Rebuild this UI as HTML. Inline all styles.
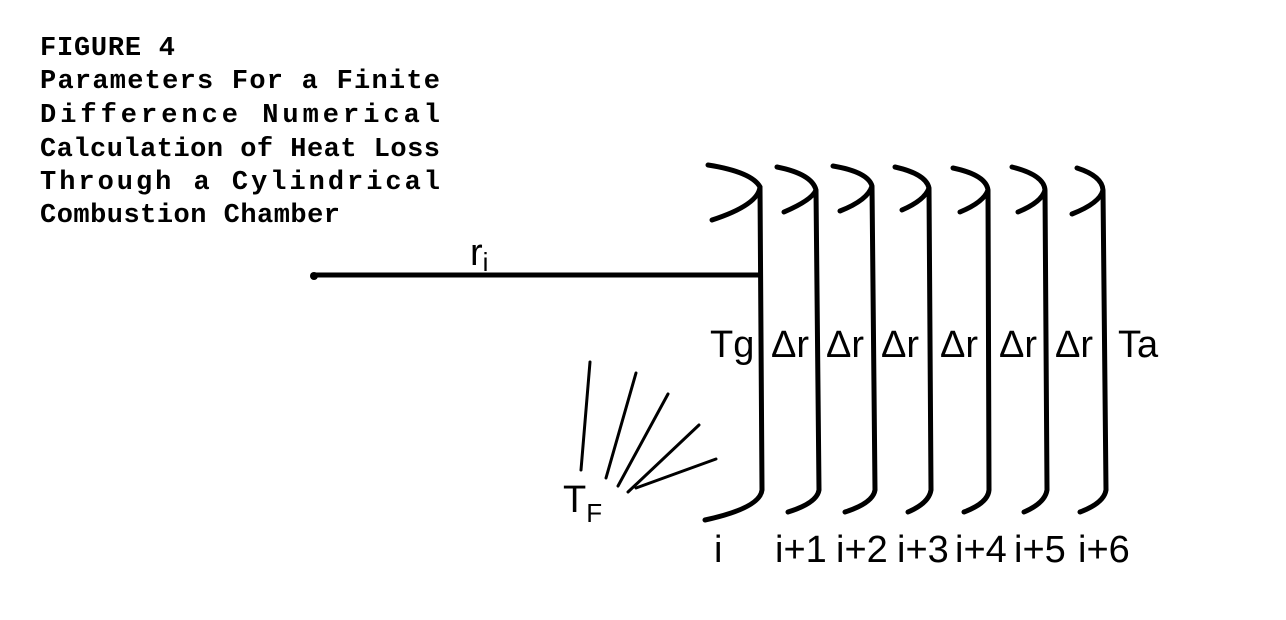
<!DOCTYPE html>
<html><head><meta charset="utf-8"><style>
html,body{margin:0;padding:0;background:#fff;}
svg{display:block;}
.m{font-family:"Liberation Mono",monospace;font-weight:bold;font-size:27px;fill:#000;}
.s{font-family:"Liberation Sans",sans-serif;font-size:38px;fill:#000;}
</style></head><body>
<svg width="1286" height="620" viewBox="0 0 1286 620" xmlns="http://www.w3.org/2000/svg">
<text class="m" x="40" y="55" textLength="135" lengthAdjust="spacing">FIGURE 4</text>
<text class="m" x="40" y="88" textLength="400" lengthAdjust="spacing">Parameters For a Finite</text>
<text class="m" x="40" y="122" textLength="400" lengthAdjust="spacing">Difference Numerical</text>
<text class="m" x="40" y="156" textLength="400" lengthAdjust="spacing">Calculation of Heat Loss</text>
<text class="m" x="40" y="189" textLength="400" lengthAdjust="spacing">Through a Cylindrical</text>
<text class="m" x="40" y="222" textLength="300" lengthAdjust="spacing">Combustion Chamber</text>

<g fill="none" stroke="#000" stroke-width="5" stroke-linecap="round" stroke-linejoin="round">
<line x1="313" y1="275" x2="760" y2="275"/>
<path d="M708 165 Q752 172 760 187 Q758 205 712 220"/>
<path d="M760 187 L762 490 Q760 508 705 520"/>
<path d="M777 167 Q812 174 816 190 Q812 200 784 212 M816 190 L819 490 Q817 503 788 512"/>
<path d="M833 166 Q868 172 872 186 Q868 200 840 211 M872 186 L875 490 Q873 503 845 512"/>
<path d="M895 167 Q926 174 929 188 Q925 200 902 210 M929 188 L931 490 Q929 503 908 512"/>
<path d="M953 168 Q986 175 988 190 Q984 202 960 212 M988 190 L989 490 Q988 503 964 512"/>
<path d="M1012 167 Q1044 175 1045 190 Q1042 202 1018 212 M1045 190 L1047 490 Q1045 503 1024 512"/>
<path d="M1077 168 Q1102 176 1103 190 Q1100 203 1072 214 M1103 190 L1106 490 Q1104 503 1080 512"/>
<g stroke-width="3">
<line x1="590" y1="362" x2="581" y2="470"/>
<line x1="636" y1="373" x2="606" y2="478"/>
<line x1="668" y1="394" x2="618" y2="486"/>
<line x1="699" y1="425" x2="628" y2="492"/>
<line x1="716" y1="459" x2="636" y2="488"/>
</g>
</g>
<circle cx="314" cy="276" r="4" fill="#000"/>
<text class="s" x="470" y="265">r<tspan font-size="26" dy="6">i</tspan></text>
<text class="s" x="710" y="357">Tg</text>
<text class="s" x="771" y="357" font-size="34">Δr</text>
<text class="s" x="826" y="357" font-size="34">Δr</text>
<text class="s" x="881" y="357" font-size="34">Δr</text>
<text class="s" x="940" y="357" font-size="34">Δr</text>
<text class="s" x="999" y="357" font-size="34">Δr</text>
<text class="s" x="1055" y="357" font-size="34">Δr</text>
<text class="s" x="1118" y="357">Ta</text>
<text class="s" x="563" y="512">T<tspan font-size="26" dy="10">F</tspan></text>
<text class="s" x="714" y="562">i</text>
<text class="s" x="775" y="562" font-size="36">i+1</text>
<text class="s" x="836" y="562" font-size="36">i+2</text>
<text class="s" x="897" y="562" font-size="36">i+3</text>
<text class="s" x="955" y="562" font-size="36">i+4</text>
<text class="s" x="1014" y="562" font-size="36">i+5</text>
<text class="s" x="1078" y="562" font-size="36">i+6</text>
</svg>
</body></html>
